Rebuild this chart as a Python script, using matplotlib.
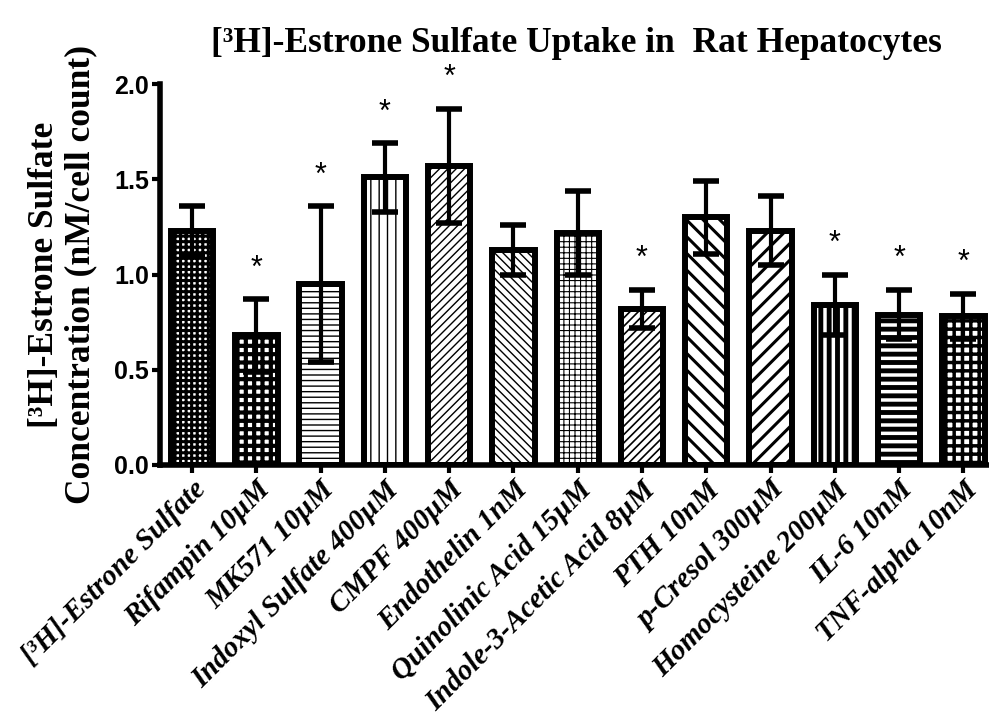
import numpy as np
import matplotlib
matplotlib.use("Agg")
import matplotlib.pyplot as plt

# values
labels = [
    "[³H]-Estrone Sulfate", "Rifampin 10µM", "MK571 10µM",
    "Indoxyl Sulfate 400µM", "CMPF 400µM", "Endothelin 1nM",
    "Quinolinic Acid 15µM", "Indole-3-Acetic Acid 8µM", "PTH 10nM",
    "p-Cresol 300µM", "Homocysteine 200µM", "IL-6 10nM", "TNF-alpha 10nM",
]
means = [1.23, 0.68, 0.95, 1.51, 1.57, 1.13, 1.22, 0.82, 1.30, 1.23, 0.84, 0.79, 0.78]
sem = [0.13, 0.19, 0.41, 0.18, 0.30, 0.13, 0.22, 0.10, 0.19, 0.18, 0.16, 0.13, 0.12]
significant = [False, True, True, True, True, False, False, True, False, False, True, True, True]

# hatch pattern and hatch line width for each bar
hatches = ["+++", "++", "---", "||", "////", "\\\\\\\\", "+++", "////", "\\\\", "//", "||", "--", "++"]
hatch_lw = [2.2, 3.0, 1.0, 1.0, 1.0, 1.0, 0.8, 1.2, 2.2, 2.2, 3.5, 3.5, 2.5]

fig = plt.figure(figsize=(9.89, 7.19), dpi=100)
ax = fig.add_axes([160 / 989, 1 - 465 / 719, 829 / 989, 381 / 719])

x = np.arange(len(labels))
for i in x:
    with plt.rc_context({"hatch.linewidth": hatch_lw[i]}):
        bar = ax.bar(x[i], means[i], width=0.66, color="white", edgecolor="black",
                     linewidth=4.3, hatch=hatches[i], zorder=2)[0]
    if hasattr(bar, "set_hatch_linewidth"):
        bar.set_hatch_linewidth(hatch_lw[i])

ax.errorbar(x, means, yerr=sem, fmt="none", ecolor="black", elinewidth=3,
            capsize=9.5, capthick=4, zorder=3, clip_on=False)

tops = np.array(means) + np.array(sem)
for i in x:
    if significant[i]:
        ax.text(x[i], tops[i] + 0.16, "*", ha="center", va="center",
                fontsize=22, family="Liberation Sans", zorder=4)

ax.set_xlim(-0.5, 12.4)
ax.set_ylim(0, 2.0)
ax.set_yticks([0.0, 0.5, 1.0, 1.5, 2.0])
ax.set_yticklabels(["0.0", "0.5", "1.0", "1.5", "2.0"],
                   fontsize=18, fontweight="bold", family="Liberation Sans")
ax.set_xticks(x)
ax.set_xticklabels(labels, rotation=45, ha="right", va="top", rotation_mode="anchor",
                   fontsize=21, fontweight="bold", fontstyle="italic",
                   family="Liberation Serif")

for side in ["top", "right"]:
    ax.spines[side].set_visible(False)
for side in ["left", "bottom"]:
    ax.spines[side].set_linewidth(4)
ax.tick_params(axis="both", direction="out", length=6, width=3, pad=2)

ax.set_ylabel("[³H]-Estrone Sulfate\nConcentration (nM/cell count)", fontsize=25.5,
              fontweight="bold", family="Liberation Serif", linespacing=1.15, labelpad=12)
fig.text(0.583, 0.94, "[³H]-Estrone Sulfate Uptake in  Rat Hepatocytes", ha="center",
         va="center", fontsize=25.5, fontweight="bold", family="Liberation Serif")

fig.savefig("out.png", dpi=100)
